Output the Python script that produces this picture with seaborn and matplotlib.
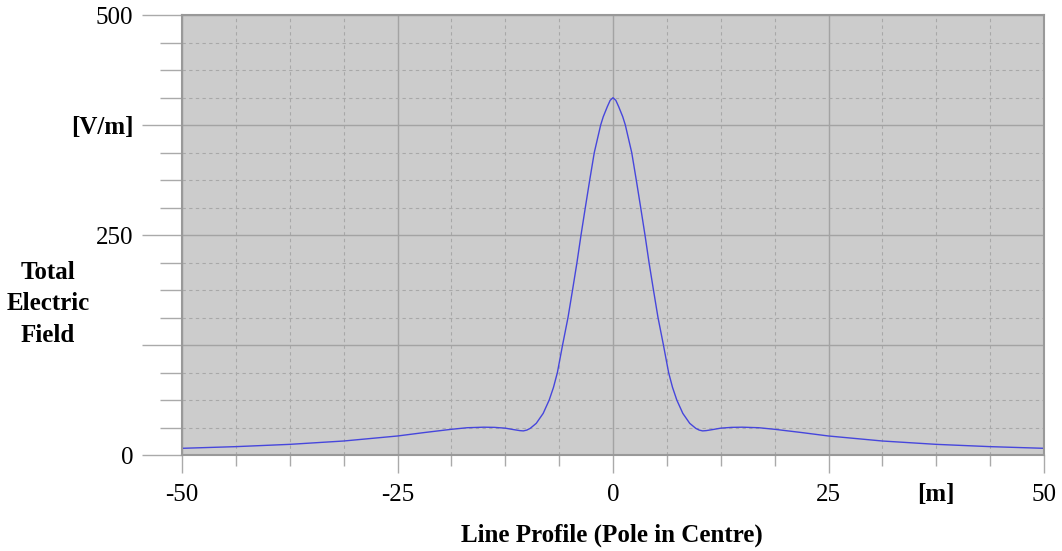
import matplotlib
matplotlib.use("Agg")
import matplotlib.pyplot as plt
import seaborn as sns
import pandas as pd
from matplotlib.ticker import FixedLocator, MultipleLocator

# ---- data ----
distance_m = [-50, -43.75, -37.5, -31.25, -25, -21.9, -18.75, -16.9, -15, -13.75,
              -12.5, -11.5, -10.8, -10.4, -10.0, -9.6, -8.9, -8.1, -7.4, -6.9,
              -6.45, -5.85, -5.22, -4.68, -4.18, -3.71, -3.21, -2.7, -2.17, -1.43,
              -1.13, -0.66, -0.33, 0,
              0.33, 0.66, 1.13, 1.43, 2.17, 2.7, 3.21, 3.71, 4.18, 4.68,
              5.22, 5.85, 6.45, 6.9, 7.4, 8.1, 8.9, 9.6, 10.0, 10.4,
              10.8, 11.5, 12.5, 13.75, 15, 16.9, 18.75, 21.9, 25, 31.25,
              37.5, 43.75, 50]
field_vm = [7.6, 9.5, 12.1, 15.9, 21.6, 25.5, 29.2, 31.0, 31.6, 31.4,
            30.5, 28.8, 27.7, 27.4, 28.3, 30.3, 36.0, 47.3, 62.5, 77.0,
            93.75, 125.0, 156.25, 188.3, 218.75, 250.0, 281.25, 312.5, 343.75, 375.0,
            384.4, 395.8, 403.0, 406.0,
            403.0, 395.8, 384.4, 375.0, 343.75, 312.5, 281.25, 250.0, 218.75, 188.3,
            156.25, 125.0, 93.75, 77.0, 62.5, 47.3, 36.0, 30.3, 28.3, 27.4,
            27.7, 28.8, 30.5, 31.4, 31.6, 31.0, 29.2, 25.5, 21.6, 15.9,
            12.1, 9.5, 7.6]

x_major = [-50, -25, 0, 25, 50]
x_major_labels = ["-50", "-25", "0", "25", "50"]
y_major = [0, 125, 250, 375, 500]
y_major_labels = ["0", "", "250", "[V/m]", "500"]
x_unit_label = "[m]"
x_unit_pos = 37.5
y_title = "Total\nElectric\nField"
x_title = "Line Profile (Pole in Centre)"

df = pd.DataFrame({"x": distance_m, "E": field_vm})

sns.set_style("white")
plt.rcParams["font.family"] = ["Liberation Serif", "DejaVu Serif"]
plt.rcParams["text.color"] = "black"
plt.rcParams["xtick.labelcolor"] = "black"
plt.rcParams["ytick.labelcolor"] = "black"

fig = plt.figure(figsize=(10.62, 5.51), dpi=100)
ax = fig.add_axes([182 / 1062, 1 - 455 / 551, (1044 - 182) / 1062, (455 - 15) / 551])
ax.set_facecolor("#cccccc")

sns.lineplot(data=df, x="x", y="E", ax=ax, color="#4646dc", linewidth=1.0, sort=False)

ax.set_xlim(-50, 50)
ax.set_ylim(0, 500)

ax.xaxis.set_major_locator(FixedLocator(x_major))
ax.xaxis.set_minor_locator(MultipleLocator(6.25))
ax.yaxis.set_major_locator(FixedLocator(y_major))
ax.yaxis.set_minor_locator(MultipleLocator(31.25))
ax.set_xticklabels(x_major_labels)
ax.set_yticklabels(y_major_labels)

ax.grid(True, which="major", color="#a3a3a3", linestyle="-", linewidth=1.0)
ax.grid(True, which="minor", color="#a8a8a8", linestyle=(0, (3, 3)), linewidth=0.8)
ax.set_axisbelow(True)

ax.tick_params(axis="x", which="major", length=13, width=1.0, color="#aaaaaa",
               direction="out", pad=8, labelsize=18, bottom=True, labelcolor="black")
ax.tick_params(axis="x", which="minor", length=8, width=1.0, color="#aaaaaa",
               direction="out", bottom=True)
ax.tick_params(axis="y", which="major", length=29, width=1.0, color="#aaaaaa",
               direction="out", pad=6, labelsize=18, left=True, labelcolor="black")
ax.tick_params(axis="y", which="minor", length=16, width=1.0, color="#aaaaaa",
               direction="out", left=True)

for lbl in ax.get_yticklabels():
    if lbl.get_text() == "[V/m]":
        lbl.set_fontweight("bold")

for s in ax.spines.values():
    s.set_color("#999999")
    s.set_linewidth(1.5)
    s.set_visible(True)

ax.set_xlabel("")
ax.set_ylabel("")

ax.text(x_unit_pos, -0.09, x_unit_label, transform=ax.get_xaxis_transform(),
        ha="center", va="center", fontsize=18, fontweight="bold", color="black")

fig.text(48 / 1062, 1 - 304 / 551, y_title, ha="center", va="center",
         fontsize=18, fontweight="bold", linespacing=1.45, color="black")
fig.text(612 / 1062, 1 - 535 / 551, x_title, ha="center", va="center",
         fontsize=18, fontweight="bold", color="black")

fig.savefig("out.png", dpi=100, facecolor="white")
